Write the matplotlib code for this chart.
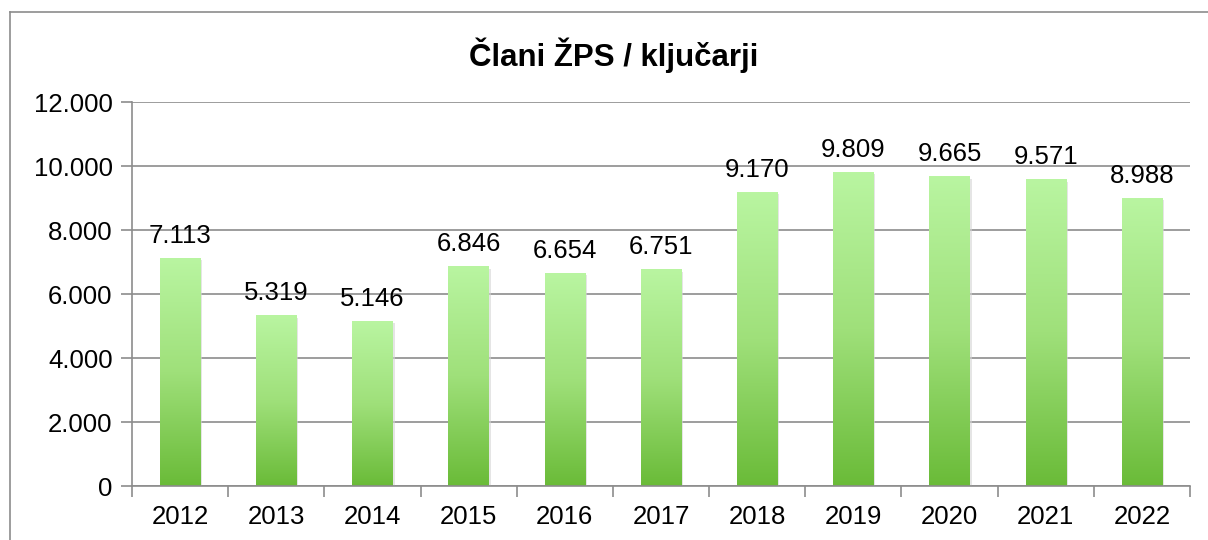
import numpy as np
import matplotlib.pyplot as plt
from matplotlib.colors import LinearSegmentedColormap
from matplotlib.patches import Rectangle
from matplotlib.lines import Line2D

plt.rcParams['font.family'] = ['Liberation Sans', 'DejaVu Sans']

years = ["2012", "2013", "2014", "2015", "2016", "2017", "2018", "2019", "2020", "2021", "2022"]
members = [7113, 5319, 5146, 6846, 6654, 6751, 9170, 9809, 9665, 9571, 8988]
title = "Člani ŽPS / ključarji"


def fmt(v):
    return f"{v:,.0f}".replace(",", ".")


fig = plt.figure(figsize=(12.08, 5.4), dpi=100)
ax = fig.add_axes([132 / 1208, 54 / 540, 1058 / 1208, 384 / 540])

# outer chart frame, only left and top edges are inside the picture
fx, fy = 10 / 1208, 1 - 12 / 540
fig.lines.append(Line2D([fx, fx], [0, fy], transform=fig.transFigure, color="#8c8c8c", lw=1.2))
fig.lines.append(Line2D([fx, 1], [fy, fy], transform=fig.transFigure, color="#8c8c8c", lw=1.2))

x = np.arange(len(years))
width = 0.42
green = LinearSegmentedColormap.from_list("g", ["#6abb38", "#9fe07a", "#b9f5a1"])
grad = np.linspace(0, 1, 256).reshape(-1, 1)

bars = ax.bar(x, members, width=width, color="none", zorder=2)
for b, v in zip(bars, members):
    x0 = b.get_x()
    # soft shadow
    ax.add_patch(Rectangle((x0 + 0.02, -60), width, v, facecolor="#d4d4d4", edgecolor="none",
                           alpha=0.6, zorder=1.5))
    ax.imshow(grad, cmap=green, origin="lower", aspect="auto",
              extent=[x0, x0 + width, 0, v], zorder=2)
    ax.text(b.get_x() + width / 2, v + 330, fmt(v), ha="center", va="bottom", fontsize=18.5)

ax.set_xlim(-0.5, len(years) - 0.5)
ax.set_ylim(0, 12000)
ax.set_yticks(range(0, 12001, 2000))
ax.set_yticklabels([fmt(t) for t in range(0, 12001, 2000)], fontsize=18.5)
ax.set_xticks(x)
ax.set_xticklabels(years, fontsize=18.5)
ax.set_xticks(np.arange(-0.5, len(years), 1), minor=True)
ax.tick_params(axis="x", which="major", length=0, pad=14)
ax.tick_params(axis="x", which="minor", length=8, color="#8c8c8c", width=1.2)
ax.tick_params(axis="y", length=8, color="#8c8c8c", width=1.2, pad=6)

ax.grid(axis="y", color="#8c8c8c", linewidth=1.2, zorder=0)
ax.set_axisbelow(True)
for s in ["top", "right"]:
    ax.spines[s].set_visible(False)
for s in ["left", "bottom"]:
    ax.spines[s].set_color("#8c8c8c")
    ax.spines[s].set_linewidth(1.2)

fig.text(614 / 1208, 1 - 55 / 540, title, ha="center", va="center", fontsize=22.5, fontweight="bold")

fig.savefig("out.png", dpi=100)
